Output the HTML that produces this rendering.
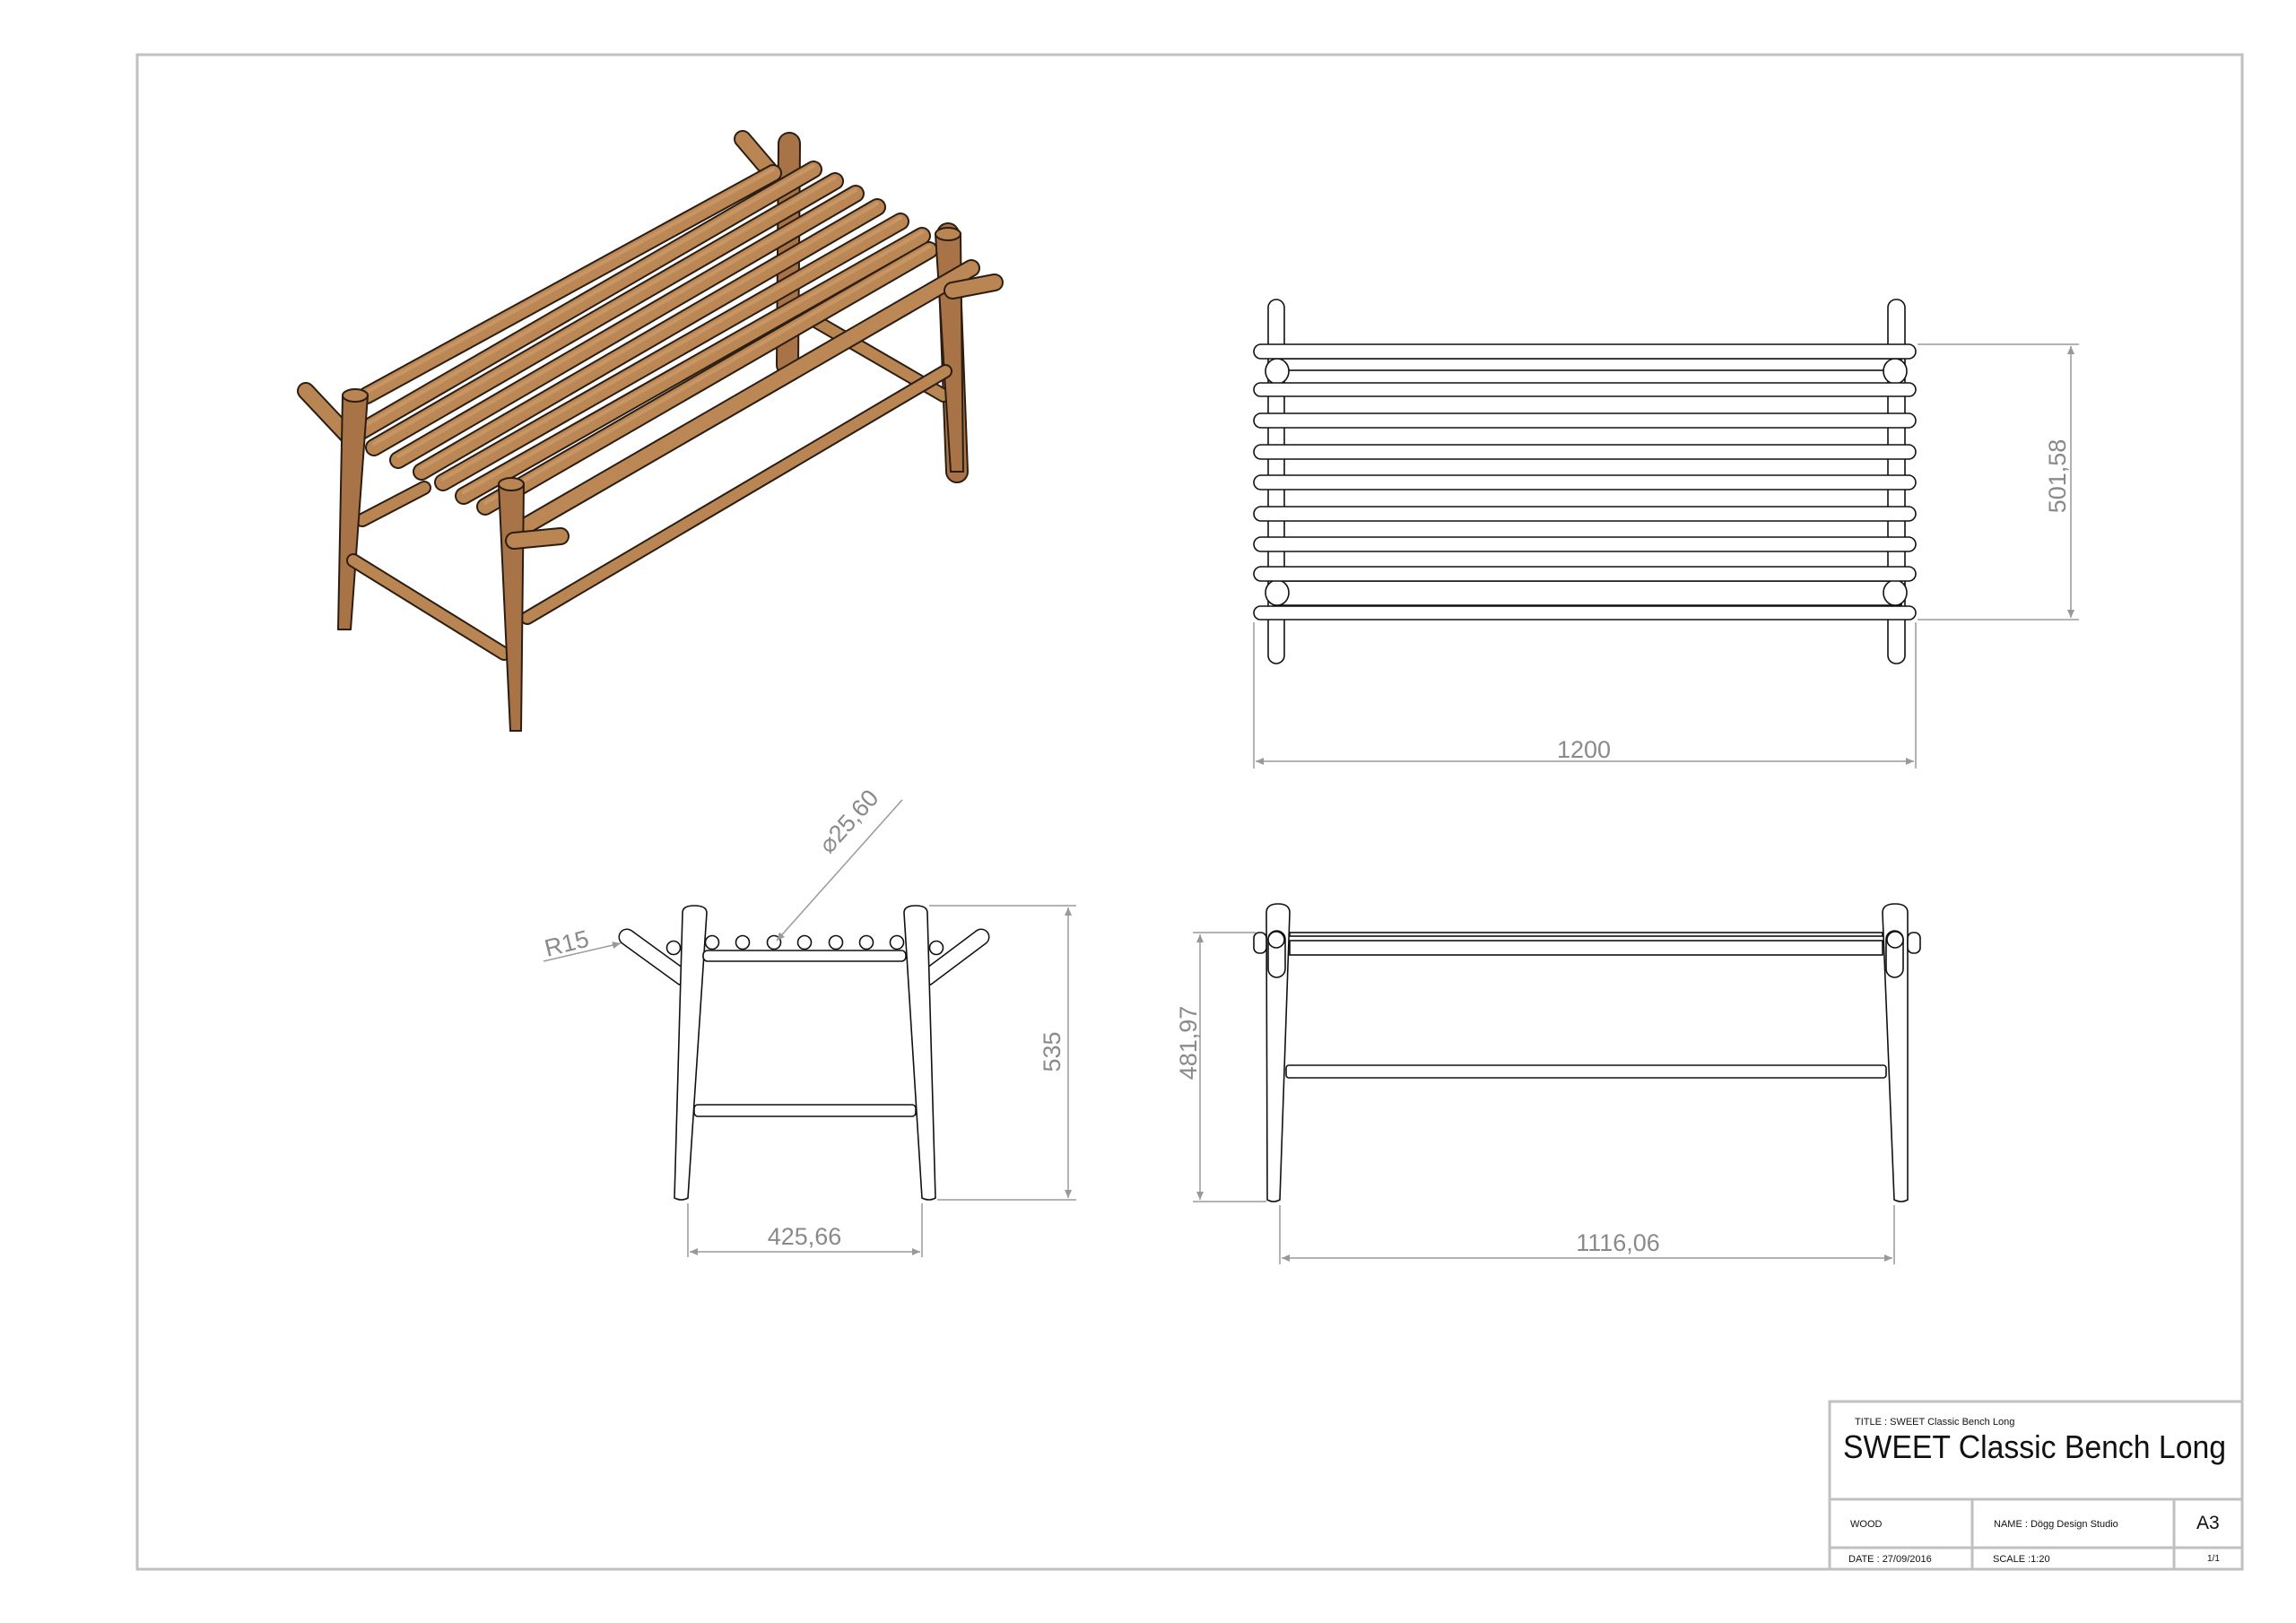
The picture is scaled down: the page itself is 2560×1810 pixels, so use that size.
<!DOCTYPE html>
<html><head><meta charset="utf-8"><style>
html,body{margin:0;padding:0;background:#fff;}
svg{display:block;}
.o{fill:#fff;stroke:#111;stroke-width:1.6;}
.d{stroke:#9a9a9a;stroke-width:1.5;fill:none;}
.dt{fill:#8a8a8a;font-family:"Liberation Sans",sans-serif;font-size:27px;}
.tb{font-family:"Liberation Sans",sans-serif;fill:#111;}
</style></head><body>
<svg width="2560" height="1810" viewBox="0 0 2560 1810" xmlns="http://www.w3.org/2000/svg">
<defs>
<marker id="a" viewBox="0 0 10 10" refX="10" refY="5" markerWidth="24" markerHeight="9" markerUnits="userSpaceOnUse" orient="auto-start-reverse"><path d="M0,0.5 L10,5 L0,9.5 Z" fill="#999"/></marker>
</defs>
<rect width="2560" height="1810" fill="#fff"/>
<rect x="153" y="61" width="2347" height="1689" fill="none" stroke="#c0c0c0" stroke-width="3"/>
<g stroke="#c0c0c0" stroke-width="3" fill="none">
<rect x="2040" y="1563" width="460" height="187"/>
<line x1="2040" y1="1672" x2="2500" y2="1672"/>
<line x1="2040" y1="1726" x2="2500" y2="1726"/>
<line x1="2199" y1="1672" x2="2199" y2="1750"/>
<line x1="2424" y1="1672" x2="2424" y2="1750"/>
</g>
<text class="tb" x="2068" y="1589" font-size="11">TITLE : SWEET Classic Bench Long</text>
<text class="tb" x="2055" y="1626" font-size="36" textLength="427" lengthAdjust="spacingAndGlyphs">SWEET Classic Bench Long</text>
<text class="tb" x="2063" y="1703" font-size="11">WOOD</text>
<text class="tb" x="2223" y="1703" font-size="11">NAME : Dögg Design Studio</text>
<text class="tb" x="2449" y="1705" font-size="21">A3</text>
<text class="tb" x="2061" y="1742" font-size="11">DATE : 27/09/2016</text>
<text class="tb" x="2222" y="1742" font-size="11">SCALE :1:20</text>
<text class="tb" x="2461" y="1741" font-size="10">1/1</text>

<!-- ISO VIEW -->
<g stroke-linecap="round">
<line x1="880" y1="160" x2="878" y2="407" stroke="#2b1d12" stroke-width="26"/>
<line x1="880" y1="160" x2="878" y2="407" stroke="#a87447" stroke-width="22"/>
<line x1="1057" y1="261" x2="1067" y2="526" stroke="#2b1d12" stroke-width="26"/>
<line x1="1057" y1="261" x2="1067" y2="526" stroke="#a87447" stroke-width="22"/>
<line x1="404" y1="580" x2="473" y2="544" stroke="#2b1d12" stroke-width="16"/>
<line x1="404" y1="580" x2="473" y2="544" stroke="#b98552" stroke-width="12"/>
<line x1="904" y1="355" x2="1052" y2="441" stroke="#2b1d12" stroke-width="16"/>
<line x1="904" y1="355" x2="1052" y2="441" stroke="#b98552" stroke-width="12"/>
<line x1="828" y1="155" x2="857" y2="189" stroke="#2b1d12" stroke-width="20"/>
<line x1="828" y1="155" x2="857" y2="189" stroke="#b98552" stroke-width="16"/>
<line x1="341" y1="436" x2="388" y2="486" stroke="#2b1d12" stroke-width="20"/>
<line x1="341" y1="436" x2="388" y2="486" stroke="#b98552" stroke-width="16"/>
<g stroke="#2b1d12" stroke-width="20">
<line x1="409" y1="441" x2="862" y2="193"/>
<line x1="394" y1="486" x2="907" y2="189"/>
<line x1="417" y1="499" x2="931" y2="202"/>
<line x1="444" y1="513" x2="954" y2="216"/>
<line x1="470" y1="526" x2="978" y2="231"/>
<line x1="494" y1="538" x2="1004" y2="247"/>
<line x1="517" y1="553" x2="1028" y2="263"/>
<line x1="541" y1="565" x2="1036" y2="279"/>
</g>
<g stroke="#bb8754" stroke-width="16">
<line x1="409" y1="441" x2="862" y2="193"/>
<line x1="394" y1="486" x2="907" y2="189"/>
<line x1="417" y1="499" x2="931" y2="202"/>
<line x1="444" y1="513" x2="954" y2="216"/>
<line x1="470" y1="526" x2="978" y2="231"/>
<line x1="494" y1="538" x2="1004" y2="247"/>
<line x1="517" y1="553" x2="1028" y2="263"/>
<line x1="541" y1="565" x2="1036" y2="279"/>
</g>
<g stroke="#d2a070" stroke-width="4" opacity="0.6">
<line x1="409" y1="437" x2="862" y2="189"/>
<line x1="394" y1="482" x2="907" y2="185"/>
<line x1="417" y1="495" x2="931" y2="198"/>
<line x1="444" y1="509" x2="954" y2="212"/>
<line x1="470" y1="522" x2="978" y2="227"/>
<line x1="494" y1="534" x2="1004" y2="243"/>
<line x1="517" y1="549" x2="1028" y2="259"/>
<line x1="541" y1="561" x2="1036" y2="275"/>
</g>
<path d="M382,441 L410,441 L391,702 L377,702 Z" fill="#a87447" stroke="#2b1d12" stroke-width="2" stroke-linejoin="round"/>
<ellipse cx="396" cy="441" rx="14" ry="7" fill="#b98552" stroke="#2b1d12" stroke-width="2"/>
<path d="M1043,261 L1071,261 L1074,526 L1060,526 Z" fill="#a87447" stroke="#2b1d12" stroke-width="2"/>
<ellipse cx="1057" cy="261" rx="14" ry="7" fill="#b98552" stroke="#2b1d12" stroke-width="2"/>
<line x1="573" y1="594" x2="1083" y2="299" stroke="#2b1d12" stroke-width="20"/>
<line x1="573" y1="594" x2="1083" y2="299" stroke="#bb8754" stroke-width="16"/>
<line x1="588" y1="689" x2="1054" y2="414" stroke="#2b1d12" stroke-width="16"/>
<line x1="588" y1="689" x2="1054" y2="414" stroke="#b98552" stroke-width="12"/>
<line x1="394" y1="625" x2="562" y2="729" stroke="#2b1d12" stroke-width="16"/>
<line x1="394" y1="625" x2="562" y2="729" stroke="#b98552" stroke-width="12"/>
<path d="M556,540 L584,540 L581,815 L569,815 Z" fill="#a87447" stroke="#2b1d12" stroke-width="2"/>
<ellipse cx="570" cy="540" rx="14" ry="7" fill="#b98552" stroke="#2b1d12" stroke-width="2"/>
<line x1="573" y1="603" x2="625" y2="598" stroke="#2b1d12" stroke-width="20"/>
<line x1="573" y1="603" x2="625" y2="598" stroke="#b98552" stroke-width="16"/>
<line x1="1062" y1="324" x2="1109" y2="315" stroke="#2b1d12" stroke-width="20"/>
<line x1="1062" y1="324" x2="1109" y2="315" stroke="#b98552" stroke-width="16"/>
</g>

<!-- TOP VIEW -->
<g>
<rect class="o" x="1414" y="334" width="18" height="406" rx="9"/>
<rect class="o" x="2105" y="334" width="19" height="406" rx="9"/>
<rect class="o" x="1420" y="400" width="700" height="13"/>
<rect class="o" x="1420" y="648" width="700" height="27"/>
<ellipse class="o" cx="1424" cy="414" rx="13" ry="14"/>
<ellipse class="o" cx="2113" cy="414" rx="13" ry="14"/>
<ellipse class="o" cx="1424" cy="661" rx="13" ry="14"/>
<ellipse class="o" cx="2113" cy="661" rx="13" ry="14"/>
<g class="o">
<rect x="1398" y="384" width="738" height="16" rx="8"/>
<rect x="1398" y="427" width="738" height="15" rx="7.5"/>
<rect x="1398" y="461" width="738" height="16" rx="8"/>
<rect x="1398" y="496" width="738" height="16" rx="8"/>
<rect x="1398" y="530" width="738" height="16" rx="8"/>
<rect x="1398" y="565" width="738" height="16" rx="8"/>
<rect x="1398" y="599" width="738" height="16" rx="8"/>
<rect x="1398" y="632" width="738" height="16" rx="8"/>
<rect x="1398" y="676" width="738" height="15" rx="7.5"/>
</g>
</g>
<line class="d" x1="2138" y1="384" x2="2318" y2="384"/>
<line class="d" x1="2138" y1="691" x2="2318" y2="691"/>
<line class="d" x1="2309" y1="386" x2="2309" y2="689" marker-start="url(#a)" marker-end="url(#a)"/>
<text class="dt" transform="translate(2303,531) rotate(-90)" text-anchor="middle">501,58</text>
<line class="d" x1="1398" y1="694" x2="1398" y2="857"/>
<line class="d" x1="2136" y1="694" x2="2136" y2="857"/>
<line class="d" x1="1400" y1="849" x2="2134" y2="849" marker-start="url(#a)" marker-end="url(#a)"/>
<text class="dt" x="1766" y="845" text-anchor="middle">1200</text>

<!-- SIDE VIEW -->
<g>
<line x1="699" y1="1045" x2="761" y2="1090" stroke-width="19" stroke="#111" stroke-linecap="round"/>
<line x1="699" y1="1045" x2="761" y2="1090" stroke-width="16" stroke="#fff" stroke-linecap="round"/>
<line x1="1094" y1="1045" x2="1034" y2="1090" stroke-width="19" stroke="#111" stroke-linecap="round"/>
<line x1="1094" y1="1045" x2="1034" y2="1090" stroke-width="16" stroke="#fff" stroke-linecap="round"/>
<circle class="o" cx="751" cy="1057" r="7.5"/>
<circle class="o" cx="1044" cy="1057" r="7.5"/>
<path class="o" d="M761,1018 Q761,1010 774,1010 Q788,1010 788,1018 L767,1336 Q760,1340 752,1336 Z"/>
<path class="o" d="M1008,1018 Q1008,1010 1021,1010 Q1034,1010 1034,1018 L1043,1336 Q1036,1340 1028,1336 Z"/>
<rect class="o" x="784" y="1060" width="226" height="12" rx="5"/>
<rect class="o" x="774" y="1232" width="247" height="13" rx="4"/>
<g class="o">
<circle cx="794" cy="1051" r="7.5"/><circle cx="828" cy="1051" r="7.5"/><circle cx="863" cy="1051" r="7.5"/><circle cx="897" cy="1051" r="7.5"/><circle cx="932" cy="1051" r="7.5"/><circle cx="966" cy="1051" r="7.5"/><circle cx="1000" cy="1051" r="7.5"/>
</g>
</g>
<line class="d" x1="606" y1="1072" x2="692" y2="1052" marker-end="url(#a)"/>
<text class="dt" transform="translate(634,1061) rotate(-14)" text-anchor="middle">R15</text>
<line class="d" x1="1006" y1="892" x2="866" y2="1049" marker-end="url(#a)"/>
<text class="dt" transform="translate(953,922) rotate(-48)" text-anchor="middle">⌀25,60</text>
<line class="d" x1="1036" y1="1010" x2="1200" y2="1010"/>
<line class="d" x1="1045" y1="1338" x2="1200" y2="1338"/>
<line class="d" x1="1191" y1="1012" x2="1191" y2="1336" marker-start="url(#a)" marker-end="url(#a)"/>
<text class="dt" transform="translate(1182,1173) rotate(-90)" text-anchor="middle">535</text>
<line class="d" x1="767" y1="1342" x2="767" y2="1402"/>
<line class="d" x1="1028" y1="1342" x2="1028" y2="1402"/>
<line class="d" x1="769" y1="1396" x2="1026" y2="1396" marker-start="url(#a)" marker-end="url(#a)"/>
<text class="dt" x="897" y="1388" text-anchor="middle">425,66</text>

<!-- FRONT VIEW -->
<g>
<rect class="o" x="1438" y="1040" width="661" height="4"/>
<rect class="o" x="1438" y="1049" width="661" height="16"/>
<rect class="o" x="1434" y="1188" width="669" height="14" rx="3"/>
<path class="o" d="M1412,1018 Q1412,1008 1425,1008 Q1438,1008 1438,1018 L1427,1338 Q1420,1342 1413,1338 Z"/>
<path class="o" d="M2099,1018 Q2099,1008 2113,1008 Q2127,1008 2127,1018 L2127,1338 Q2120,1342 2112,1338 Z"/>
<rect class="o" x="1398" y="1040" width="14" height="23" rx="6"/>
<rect class="o" x="2127" y="1040" width="14" height="23" rx="6"/>
<rect class="o" x="1414" y="1038" width="19" height="52" rx="9.5"/>
<rect class="o" x="2103" y="1038" width="19" height="52" rx="9.5"/>
<circle class="o" cx="1423" cy="1048" r="9"/>
<circle class="o" cx="2113" cy="1048" r="9"/>
</g>
<line class="d" x1="1330" y1="1040" x2="1400" y2="1040"/>
<line class="d" x1="1330" y1="1340" x2="1412" y2="1340"/>
<line class="d" x1="1338" y1="1042" x2="1338" y2="1338" marker-start="url(#a)" marker-end="url(#a)"/>
<text class="dt" transform="translate(1334,1163) rotate(-90)" text-anchor="middle">481,97</text>
<line class="d" x1="1427" y1="1344" x2="1427" y2="1410"/>
<line class="d" x1="2112" y1="1344" x2="2112" y2="1410"/>
<line class="d" x1="1429" y1="1403" x2="2110" y2="1403" marker-start="url(#a)" marker-end="url(#a)"/>
<text class="dt" x="1804" y="1395" text-anchor="middle">1116,06</text>
</svg>
</body></html>
